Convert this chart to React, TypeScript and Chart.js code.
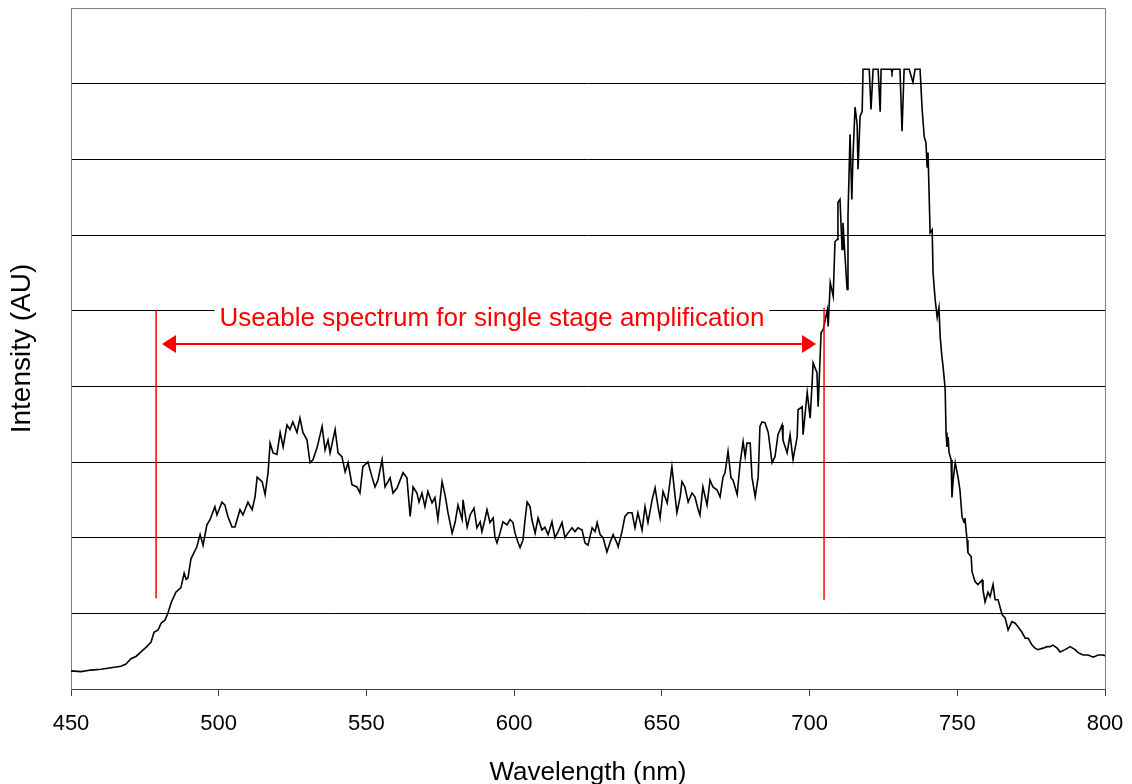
import React, { useEffect, useRef } from 'react';
import { Chart, registerables } from 'chart.js';

Chart.register(...registerables);

// Wavelength (nm)
const wavelengths: number[] = [
  450.0, 453.4, 456.8, 460.2, 463.5, 466.9, 468.6, 470.3, 472.0, 473.7, 475.4, 477.1, 478.1, 479.5, 480.5, 481.8, 482.8, 483.9, 485.5, 487.2, 488.3, 489.0, 489.6, 490.6,
  492.6, 493.7, 494.7, 496.0, 497.1, 498.7, 499.4, 501.1, 502.1, 503.1, 504.5, 505.5, 507.2, 508.2, 509.9, 511.3, 512.3, 513.0, 514.7, 515.7, 516.7, 517.4, 518.4, 519.7, 520.8, 521.8, 523.1, 524.1, 525.1, 526.5, 527.5, 528.5, 529.9, 530.9, 531.9, 533.3, 535.0, 536.0, 537.0, 537.7, 539.4, 540.4,
  541.7, 542.8, 543.8, 545.1, 546.8, 547.8, 548.8, 550.5, 551.9, 552.9, 553.9, 555.3, 556.3, 558.0, 559.0, 560.4, 561.4, 562.4, 563.7, 564.8, 565.8, 567.1, 567.8, 568.8, 569.8, 570.8, 572.2, 573.2, 574.2, 575.6, 576.6, 577.6, 579.0, 580.0, 581.0, 582.4, 582.7, 584.1, 585.1, 586.4, 587.4,
  588.5, 589.1, 590.1, 590.8, 591.8, 592.9, 593.5, 594.2, 595.2, 596.2, 597.6, 598.6, 599.6, 600.3, 601.3, 602.0, 603.0, 603.7, 604.4, 605.4, 606.0, 607.1, 608.1, 609.4, 610.4, 611.5, 612.8, 613.8, 614.9, 616.2, 617.2, 618.2, 619.6, 620.6, 621.6, 623.0, 624.0, 625.0, 626.4, 627.4, 628.1, 629.1, 630.1, 631.4, 632.5, 633.5, 634.8,
  635.2, 636.5, 637.5, 638.6, 639.9, 640.9, 641.9, 643.3, 644.3, 645.3, 646.7, 647.7, 648.7, 649.4, 650.4, 651.8, 652.4, 653.4, 654.5, 655.1, 656.2, 656.8, 657.8, 658.9, 660.2, 661.2, 662.3, 662.9, 663.9, 665.3, 666.3, 667.3, 668.7, 669.7, 670.7, 671.4, 672.4, 673.4, 674.1, 675.5, 676.5, 677.5, 678.2, 678.8, 679.9, 680.5, 681.6, 682.6, 683.2,
  683.9, 684.9, 686.0, 687.3, 688.3, 689.3, 690.7, 691.0, 692.4, 693.4, 694.4, 695.8, 696.1, 697.5, 697.8, 699.2, 700.2, 700.8, 701.2, 702.5, 702.9, 703.9, 704.6, 706.0, 706.3, 707.0, 708.0,
  708.6, 709.3, 709.6, 710.3, 711.0, 711.3, 712.7, 713.0, 713.7, 714.3, 714.7, 715.4, 716.1, 716.4, 717.1, 717.8, 718.1, 720.2, 720.8, 721.5, 723.2, 723.9, 724.2, 727.6, 727.9, 728.2, 730.6, 731.3, 732.0, 733.7, 735.0, 735.7, 737.4, 738.1, 738.8, 739.4, 739.8, 740.1, 740.8, 741.5, 741.8, 742.5, 743.2, 743.8, 744.2, 744.8, 745.2, 745.9, 746.2, 746.5, 746.9, 747.2, 747.9, 748.2, 748.6, 749.3, 750.3, 750.9, 751.6, 752.3, 752.6, 753.3, 753.6, 754.7, 755.0, 756.0, 757.0, 758.4, 758.7, 759.4, 760.4, 761.1, 762.1, 762.8, 763.8, 765.2, 766.2, 767.2, 768.5, 769.6, 770.6, 771.9, 773.0, 774.0, 775.3, 776.3, 777.3, 779.0, 780.4, 781.4, 782.4, 783.8, 784.8, 786.5, 788.2, 789.9, 790.9, 792.6, 794.3, 796.0, 797.7, 799.3, 800.0,
];

// Intensity (AU) – one gridline step = 1 unit
const intensity: number[] = [
  0.24, 0.23, 0.25, 0.26, 0.28, 0.30, 0.33, 0.40, 0.43, 0.49, 0.55, 0.62, 0.75, 0.78, 0.87, 0.91, 1.00, 1.14, 1.28, 1.34, 1.53, 1.45, 1.47, 1.72,
  1.88, 2.04, 1.90, 2.17, 2.24, 2.41, 2.30, 2.47, 2.43, 2.28, 2.14, 2.14, 2.37, 2.30, 2.47, 2.37, 2.54, 2.80, 2.74, 2.57, 2.86, 3.25, 3.12, 3.10, 3.39, 3.20, 3.49, 3.43, 3.53, 3.39, 3.58, 3.39, 3.29, 2.99, 3.03, 3.19, 3.47, 3.16, 3.29, 3.12, 3.43, 3.12,
  3.07, 2.87, 2.99, 2.70, 2.67, 2.59, 2.94, 3.00, 2.80, 2.67, 2.76, 3.03, 2.67, 2.79, 2.59, 2.66, 2.76, 2.86, 2.79, 2.28, 2.67, 2.59, 2.47, 2.59, 2.41, 2.61, 2.46, 2.53, 2.24, 2.74, 2.57, 2.33, 2.06, 2.20, 2.43, 2.24, 2.50, 2.14, 2.30, 2.39, 2.13,
  2.21, 2.08, 2.24, 2.37, 2.20, 2.26, 2.01, 1.93, 2.06, 2.21, 2.17, 2.24, 2.20, 2.06, 1.94, 1.87, 1.97, 2.24, 2.47, 2.41, 2.24, 2.06, 2.26, 2.10, 2.14, 2.04, 2.21, 2.00, 2.08, 2.20, 2.00, 2.06, 2.13, 2.08, 2.13, 2.10, 1.93, 1.90, 2.13, 2.08, 2.20, 2.04, 2.00, 1.81, 1.94, 2.04, 1.93,
  1.88, 2.08, 2.28, 2.33, 2.33, 2.13, 2.33, 2.10, 2.41, 2.20, 2.50, 2.66, 2.41, 2.26, 2.61, 2.46, 2.63, 2.94, 2.54, 2.33, 2.54, 2.74, 2.67, 2.47, 2.59, 2.54, 2.37, 2.30, 2.67, 2.43, 2.76, 2.67, 2.63, 2.54, 2.80, 2.86, 3.14, 2.79, 2.76, 2.57, 2.99, 3.27, 3.07, 3.25, 3.25, 2.80, 2.54, 2.80, 3.47,
  3.53, 3.52, 3.39, 2.99, 3.07, 3.36, 3.49, 3.29, 3.12, 3.36, 3.03, 3.33, 3.69, 3.73, 3.36, 3.92, 3.58, 4.00, 4.31, 4.18, 3.73, 4.71, 4.75, 5.01, 4.79, 5.37, 5.19,
  5.91, 5.94, 6.43, 6.47, 5.81, 6.16, 5.28, 6.24, 7.33, 6.47, 7.04, 7.69, 7.46, 6.87, 7.57, 7.63, 8.19, 8.19, 7.66, 8.19, 8.19, 7.63, 8.19, 8.19, 8.15, 8.19, 8.19, 7.37, 8.19, 8.19, 8.02, 8.19, 8.19, 7.66, 7.30, 7.22, 6.89, 7.09, 6.03, 6.07, 5.50, 5.15, 4.91, 5.04, 4.66, 4.39, 4.26, 3.96, 3.39, 3.20, 3.33, 3.13, 3.03, 2.53, 2.76, 2.99, 2.79, 2.63, 2.28, 2.20, 2.26, 1.97, 1.80, 1.75, 1.55, 1.42, 1.38, 1.44, 1.31, 1.15, 1.28, 1.22, 1.38, 1.18, 1.18, 0.98, 0.94, 0.78, 0.89, 0.87, 0.82, 0.75, 0.67, 0.67, 0.58, 0.54, 0.52, 0.54, 0.56, 0.56, 0.58, 0.54, 0.49, 0.52, 0.56, 0.52, 0.48, 0.45, 0.45, 0.42, 0.45, 0.45, 0.44,
];

const xMin = 450;
const xMax = 800;
const xStep = 50;
const yMin = 0;
const yMax = 9;

// Red annotation: two marker lines (wavelength, from, to), an arrow and a label
const markerX: number[] = [478.8, 704.9];
const markerFrom: number[] = [1.2, 1.18];
const markerTo: number[] = [5.01, 5.04];
const arrowStart = 480.8;
const arrowEnd = 702.2;
const arrowLevel = 4.56;
const labelText = 'Useable spectrum for single stage amplification';
const labelX = 592.5;
const labelY = 4.89;

const FONT = '"Liberation Sans", Arial, Helvetica, sans-serif';

const annotationPlugin = {
  id: 'spectrumAnnotation',
  beforeDatasetsDraw(chart: any) {
    const { ctx, chartArea } = chart;
    ctx.save();
    ctx.strokeStyle = '#808080';
    ctx.lineWidth = 1;
    ctx.beginPath();
    ctx.moveTo(Math.round(chartArea.left) + 0.5, Math.round(chartArea.bottom) + 0.5);
    ctx.lineTo(Math.round(chartArea.left) + 0.5, Math.round(chartArea.top) + 0.5);
    ctx.lineTo(Math.round(chartArea.right) + 0.5, Math.round(chartArea.top) + 0.5);
    ctx.lineTo(Math.round(chartArea.right) + 0.5, Math.round(chartArea.bottom) + 0.5);
    ctx.stroke();
    ctx.restore();
  },
  afterDatasetsDraw(chart: any) {
    const { ctx } = chart;
    const xs = chart.scales.x;
    const ys = chart.scales.y;
    ctx.save();
    ctx.strokeStyle = '#ff0000';
    ctx.fillStyle = '#ff0000';
    ctx.lineWidth = 1.5;
    for (let i = 0; i < markerX.length; i++) {
      const px = xs.getPixelForValue(markerX[i]);
      ctx.beginPath();
      ctx.moveTo(px, ys.getPixelForValue(markerFrom[i]));
      ctx.lineTo(px, ys.getPixelForValue(markerTo[i]));
      ctx.stroke();
    }
    // arrow
    const ax0 = xs.getPixelForValue(arrowStart);
    const ax1 = xs.getPixelForValue(arrowEnd);
    const ay = ys.getPixelForValue(arrowLevel);
    const headL = 14;
    const headH = 9;
    ctx.lineWidth = 2;
    ctx.beginPath();
    ctx.moveTo(ax0 + headL - 1, ay);
    ctx.lineTo(ax1 - headL + 1, ay);
    ctx.stroke();
    ctx.beginPath();
    ctx.moveTo(ax0, ay);
    ctx.lineTo(ax0 + headL, ay - headH);
    ctx.lineTo(ax0 + headL, ay + headH);
    ctx.closePath();
    ctx.fill();
    ctx.beginPath();
    ctx.moveTo(ax1, ay);
    ctx.lineTo(ax1 - headL, ay - headH);
    ctx.lineTo(ax1 - headL, ay + headH);
    ctx.closePath();
    ctx.fill();
    // label with white box
    ctx.font = `26px ${FONT}`;
    const w = ctx.measureText(labelText).width;
    const lx = xs.getPixelForValue(labelX);
    const ly = ys.getPixelForValue(labelY);
    ctx.fillStyle = '#ffffff';
    ctx.fillRect(lx - w / 2 - 5, ly - 13, w + 10, 26);
    ctx.fillStyle = '#ff0000';
    ctx.textAlign = 'center';
    ctx.textBaseline = 'middle';
    ctx.fillText(labelText, lx, ly);
    ctx.restore();
  },
};

export default function App() {
  const canvasRef = useRef<HTMLCanvasElement | null>(null);

  useEffect(() => {
    if (!canvasRef.current) return;
    const points = wavelengths.map((w, i) => ({ x: w, y: intensity[i] }));
    const chart = new Chart(canvasRef.current, {
      type: 'line',
      data: {
        datasets: [
          {
            data: points,
            borderColor: '#000000',
            borderWidth: 1.6,
            pointRadius: 0,
            tension: 0,
            fill: false,
          },
        ],
      },
      options: {
        animation: false,
        responsive: false,
        devicePixelRatio: 1,
        layout: { padding: { left: 0, top: 8, right: 27, bottom: 0 } },
        plugins: {
          legend: { display: false },
          tooltip: { enabled: false },
        },
        scales: {
          x: {
            type: 'linear',
            min: xMin,
            max: xMax,
            ticks: {
              stepSize: xStep,
              color: '#000000',
              font: { family: FONT, size: 22 },
              padding: 15,
              maxRotation: 0,
            },
            grid: {
              drawOnChartArea: false,
              drawTicks: true,
              tickLength: 7,
              color: '#404040',
            },
            border: { color: '#404040', width: 1 },
            title: {
              display: true,
              text: 'Wavelength (nm)',
              color: '#000000',
              font: { family: FONT, size: 26, lineHeight: 0.85 },
              padding: { top: 0, bottom: 0 },
            },
            afterFit(scale: any) {
              scale.height = 95;
              scale.paddingLeft = 0;
              scale.paddingRight = 0;
            },
          },
          y: {
            type: 'linear',
            min: yMin,
            max: yMax,
            ticks: { display: false, stepSize: 1 },
            grid: {
              color: '#000000',
              lineWidth: 1,
              drawTicks: false,
            },
            border: { color: '#808080', width: 1 },
            title: {
              display: true,
              text: 'Intensity (AU)',
              color: '#000000',
              font: { family: FONT, size: 28, lineHeight: 1 },
              padding: { top: 8, bottom: 0 },
            },
            afterFit(scale: any) {
              scale.width = 71;
              scale.paddingTop = 0;
              scale.paddingBottom = 0;
            },
          },
        },
      },
      plugins: [annotationPlugin],
    });
    return () => chart.destroy();
  }, []);

  return (
    <div style={{ position: 'absolute', left: 0, top: 0, width: 1132, height: 784, background: '#ffffff' }}>
      <canvas ref={canvasRef} width={1132} height={784} style={{ display: 'block' }} />
    </div>
  );
}
